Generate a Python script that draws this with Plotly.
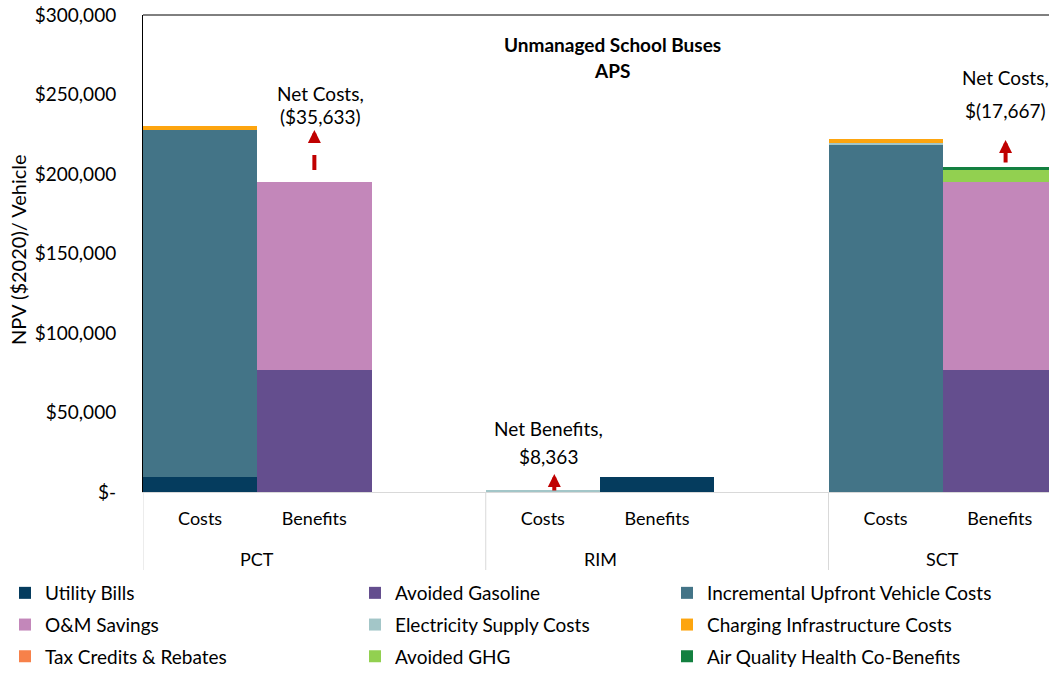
import plotly.graph_objects as go

# ---------------- data ----------------
groups = ["PCT", "RIM", "SCT"]
sides = ["Costs", "Benefits"]
# bar order: PCT Costs, PCT Benefits, RIM Costs, RIM Benefits, SCT Costs, SCT Benefits
utility_bills = [9400, 0, 0, 9400, 0, 0]
avoided_gasoline = [0, 76700, 0, 0, 0, 76700]
incremental_upfront = [218300, 0, 0, 0, 218300, 0]
om_savings = [0, 118067, 0, 0, 0, 118067]
electricity_supply = [0, 0, 1037, 0, 1037, 0]
charging_infra = [2700, 0, 0, 0, 2700, 0]
tax_credits = [0, 0, 0, 0, 0, 0]
avoided_ghg = [0, 0, 0, 0, 0, 7800]
air_quality = [0, 0, 0, 0, 0, 1803]

net_labels = [("Net Costs,", "($35,633)"), ("Net Benefits,", "$8,363"), ("Net Costs,", "$(17,667)")]

y_tickvals = [0, 50000, 100000, 150000, 200000, 250000, 300000]
y_ticktext = ["$-", "$50,000", "$100,000", "$150,000", "$200,000", "$250,000", "$300,000"]

series = [
    ("Utility Bills", utility_bills, "#053C5E", "legend"),
    ("Avoided Gasoline", avoided_gasoline, "#644E8E", "legend2"),
    ("Incremental Upfront Vehicle Costs", incremental_upfront, "#437487", "legend3"),
    ("O&M Savings", om_savings, "#C387BA", "legend"),
    ("Electricity Supply Costs", electricity_supply, "#A3C6C8", "legend2"),
    ("Charging Infrastructure Costs", charging_infra, "#FDA50F", "legend3"),
    ("Tax Credits & Rebates", tax_credits, "#F7814A", "legend"),
    ("Avoided GHG", avoided_ghg, "#92D050", "legend2"),
    ("Air Quality Health Co-Benefits", air_quality, "#138040", "legend3"),
]

# slot positions: each group has 3 slots (Costs, Benefits, gap)
positions = [g * 3 + s for g in range(len(groups)) for s in range(len(sides))]
tick_text = [s for g in groups for s in sides]

FONT = "Lato"
fig = go.Figure()
for i, (name, vals, color, leg) in enumerate(series):
    fig.add_trace(go.Bar(
        x=positions, y=vals, name=name, marker=dict(color=color, line=dict(width=0)),
        width=1.0, legend=leg, legendgroup=name, showlegend=True,
    ))

W, H = 1049, 675
L, R, T, B = 143, 0, 15, 183
plot_h = H - T - B
ymax = 300000


def py(pix):
    """pixel row -> data y"""
    return (H - B - pix) / plot_h * ymax


def ppaper(pix):
    return (H - B - pix) / plot_h


shapes = []
# top frame line
shapes.append(dict(type="line", xref="paper", yref="paper", x0=0, x1=1, y0=1, y1=1,
                   line=dict(color="black", width=1)))
# group dividers below axis
for g in range(len(groups)):
    xd = g * 3 - 0.5
    shapes.append(dict(type="line", xref="x", yref="paper", x0=xd, x1=xd, y0=0, y1=ppaper(570),
                       line=dict(color="#D9D9D9", width=1)))
# dashed part of PCT arrow shaft
shapes.append(dict(type="line", xref="x", yref="y", x0=1, x1=1, y0=py(170), y1=py(155),
                   line=dict(color="#C00000", width=4)))

annotations = []
# y-axis title
annotations.append(dict(text="NPV ($2020)/ Vehicle", xref="paper", yref="paper",
                        x=(18 - L) / (W - L), y=ppaper(249), xanchor="center", yanchor="middle",
                        textangle=-90, showarrow=False,
                        font=dict(family=FONT, size=20, color="black")))
# title
for txt, yy in (("<b>Unmanaged School Buses</b>", 45), ("<b>APS</b>", 70)):
    annotations.append(dict(text=txt, xref="paper", yref="paper", x=(612 - L) / (W - L),
                            y=ppaper(yy), yanchor="middle", showarrow=False,
                            font=dict(family=FONT, size=19, color="black")))
# group labels
for g, name in enumerate(groups):
    annotations.append(dict(text=name, xref="x", yref="paper", x=g * 3 + 0.5, y=ppaper(559),
                            yanchor="middle", showarrow=False,
                            font=dict(family=FONT, size=18, color="black")))
# net labels
label_pos = [(1.05, 93, 116), (3.05, 428, 456), (7.05, 77, 110)]
for (l1, l2), (xx, y1, y2) in zip(net_labels, label_pos):
    for txt, yy in ((l1, y1), (l2, y2)):
        annotations.append(dict(text=txt, x=xx, y=py(yy), yanchor="middle", showarrow=False,
                                font=dict(family=FONT, size=19, color="black")))
# arrows (x, tip pixel, tail pixel)
arrows = [(1, 130, 143), (3.1, 474, 492), (7.05, 140, 164)]
for xx, tip, tail in arrows:
    annotations.append(dict(x=xx, y=py(tip), ax=xx, ay=py(tail), axref="x", ayref="y",
                            showarrow=True, arrowhead=2, arrowsize=0.65, arrowwidth=4,
                            arrowcolor="#C00000", text=""))

legend_common = dict(xref="container", yref="container", xanchor="left", yanchor="top",
                     orientation="v", font=dict(family=FONT, size=19, color="black"),
                     tracegroupgap=4, bgcolor="rgba(0,0,0,0)", itemclick=False)
leg_y = 1 - 574 / H

fig.update_layout(
    width=W, height=H,
    margin=dict(l=L, r=R, t=T, b=B, autoexpand=False),
    paper_bgcolor="white", plot_bgcolor="white",
    barmode="stack", bargap=0,
    font=dict(family=FONT, size=18, color="black"),
    xaxis=dict(range=[-0.5, 7.43], tickvals=positions, ticktext=tick_text, showgrid=False,
               zeroline=False, showline=True, linecolor="#D9D9D9", linewidth=1,
               ticks="outside", ticklen=10, tickcolor="rgba(0,0,0,0)",
               tickfont=dict(family=FONT, size=18, color="black")),
    yaxis=dict(range=[0, ymax], tickvals=y_tickvals, ticktext=y_ticktext, showgrid=False,
               zeroline=False, showline=True, linecolor="black", linewidth=1,
               ticks="outside", ticklen=22, tickcolor="rgba(0,0,0,0)",
               tickfont=dict(family=FONT, size=19, color="black")),
    legend=dict(x=5 / W, y=leg_y, **legend_common),
    legend2=dict(x=355 / W, y=leg_y, **legend_common),
    legend3=dict(x=667 / W, y=leg_y, **legend_common),
    shapes=shapes, annotations=annotations,
)

fig.write_html("out.html", config={"displayModeBar": False},
               post_script="document.body.style.margin='0';document.body.style.padding='0';"
                           "document.body.style.overflow='hidden';")
